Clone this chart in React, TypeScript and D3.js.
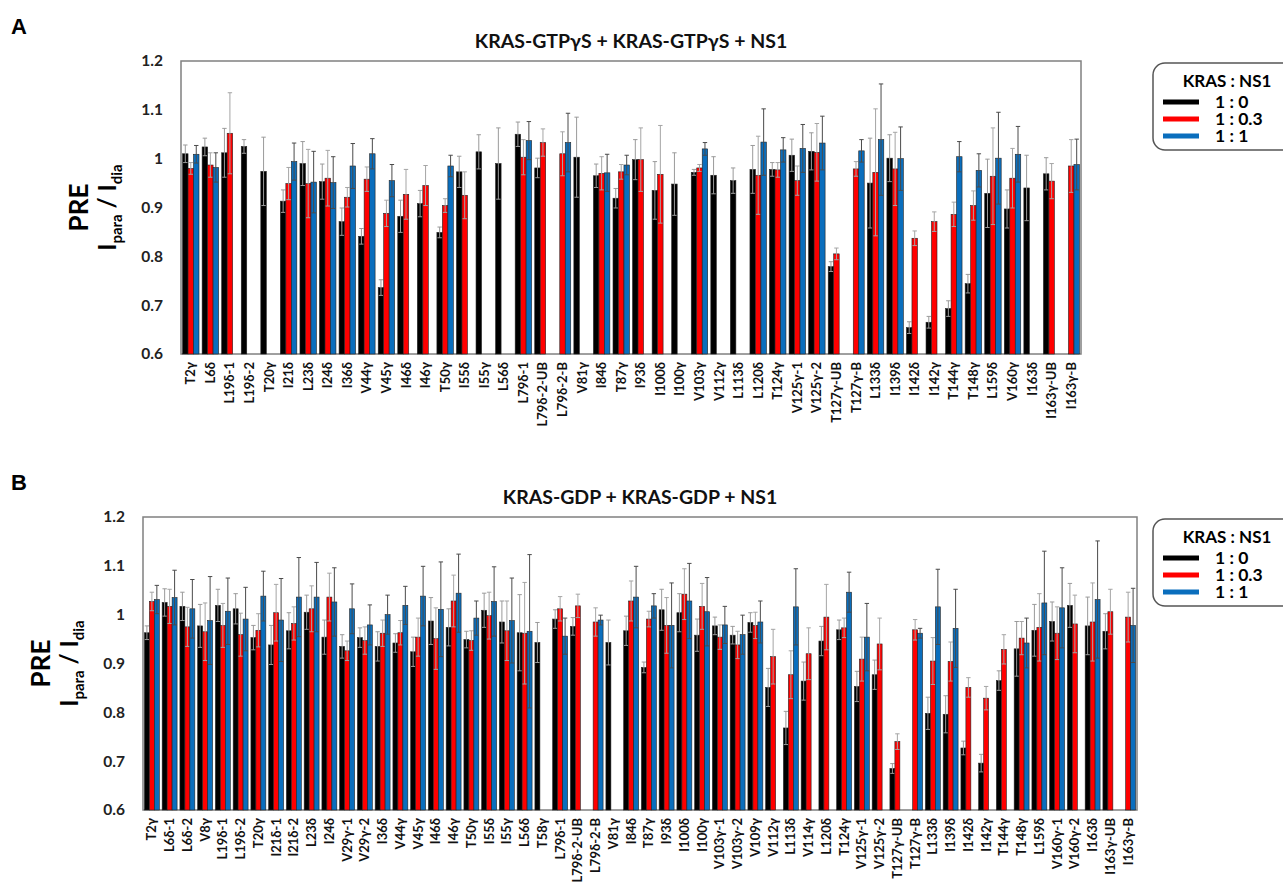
import React, { useRef, useEffect } from "react";
import * as d3 from "d3";

// ---- panel A : KRAS-GTPγS ----
const labelsA = ["T2γ","L6δ","L19δ-1","L19δ-2","T20γ","I21δ","L23δ","I24δ","I36δ","V44γ","V45γ","I46δ","I46γ","T50γ","I55δ","I55γ","L56δ","L79δ-1","L79δ-2-UB","L79δ-2-B","V81γ","I84δ","T87γ","I93δ","I100δ","I100γ","V103γ","V112γ","L113δ","L120δ","T124γ","V125γ-1","V125γ-2","T127γ-UB","T127γ-B","L133δ","I139δ","I142δ","I142γ","T144γ","T148γ","L159δ","V160γ","I163δ","I163γ-UB","I163γ-B"];
const blackA = [1.010,1.024,1.012,1.025,0.974,0.913,0.990,0.953,0.871,0.841,0.736,0.882,0.908,0.849,0.973,1.014,0.990,1.050,0.981,null,1.003,0.965,0.919,0.998,0.935,0.948,0.972,0.966,0.955,0.978,0.978,1.007,1.015,0.779,null,0.950,1.001,0.654,0.665,0.693,0.744,0.929,0.897,0.940,0.969,null];
const redA = [0.980,0.987,1.052,null,null,0.949,0.949,0.960,0.921,0.958,0.888,0.927,0.945,0.904,0.925,null,null,1.003,1.033,1.010,null,0.970,0.973,0.998,0.968,null,0.981,null,null,0.966,0.977,0.955,1.013,0.805,0.979,0.972,0.979,0.837,0.871,0.886,0.904,0.964,0.960,null,0.954,0.985];
const blueA = [1.009,0.982,null,null,null,0.994,0.952,0.951,0.985,1.010,0.955,null,null,0.985,null,null,null,1.037,null,1.033,null,0.971,0.987,null,null,null,1.020,null,null,1.034,1.018,1.021,1.032,null,1.016,1.039,1.000,null,null,1.004,0.976,1.001,1.009,null,null,0.988];
const errBlackA = [0.018,0.018,0.05,0.014,0.07,0.023,0.045,0.036,0.028,0.016,0.016,0.033,0.027,0.011,0.032,0.035,0.073,0.025,0.02,0,0.082,0.024,0.02,0.041,0.059,0.064,0.006,0.038,0.026,0.049,0.014,0.033,0.038,0.01,0,0.092,0.048,0.012,0.012,0.016,0.019,0.07,0.039,0.067,0.033,0];
const errRedA = [0.012,0.025,0.083,0,0,0.033,0.07,0.057,0.02,0.025,0.027,0.051,0.041,0.014,0.048,0,0,0.036,0.028,0.045,0,0.034,0.015,0.065,0.1,0,0.007,0,0,0.08,0.015,0.03,0.059,0.012,0.015,0.13,0.075,0.015,0.02,0.025,0.03,0.099,0.061,0,0.036,0.054];
const errBlueA = [0.018,0.03,0,0,0,0.038,0.063,0.053,0.046,0.031,0.033,0,0,0.022,0,0,0,0.039,0,0.06,0,0.038,0.02,0,0,0,0.013,0,0,0.068,0.025,0.049,0.055,0,0.023,0.114,0.065,0,0,0.031,0.034,0.094,0.057,0,0,0.052];

// ---- panel B : KRAS-GDP ----
const labelsB = ["T2γ","L6δ-1","L6δ-2","V8γ","L19δ-1","L19δ-2","T20γ","I21δ-1","I21δ-2","L23δ","I24δ","V29γ-1","V29γ-2","I36δ","V44γ","V45γ","I46δ","I46γ","T50γ","I55δ","I55γ","L56δ","T58γ","L79δ-1","L79δ-2-UB","L79δ-2-B","V81γ","I84δ","T87γ","I93δ","I100δ","I100γ","V103γ-1","V103γ-2","V109γ","V112γ","L113δ","V114γ","L120δ","T124γ","V125γ-1","V125γ-2","T127γ-UB","T127γ-B","L133δ","I139δ","I142δ","I142γ","T144γ","T148γ","L159δ","V160γ-1","V160γ-2","I163δ","I163γ-UB","I163γ-B"];
const blackB = [0.963,1.025,1.017,0.977,1.019,1.012,0.953,0.938,0.967,1.005,0.954,0.935,0.953,0.935,0.942,0.924,0.987,0.974,0.949,1.009,0.985,0.963,0.943,0.991,0.976,null,0.943,0.967,0.892,1.010,1.004,0.958,0.977,0.958,0.984,0.851,0.768,0.864,0.946,0.969,0.853,0.877,0.685,null,0.798,0.796,0.727,0.696,0.865,0.930,0.968,0.986,1.019,0.977,0.966,null];
const redB = [1.027,1.017,0.975,0.965,0.978,0.959,0.968,1.004,0.982,1.012,1.036,0.926,0.947,0.962,0.963,0.954,0.951,1.028,0.947,0.998,0.967,0.962,null,1.012,1.018,0.985,null,1.028,0.991,0.978,1.042,1.017,0.954,0.938,0.978,0.914,0.877,0.920,0.995,0.973,0.909,0.940,0.740,0.969,0.905,0.904,0.851,0.829,0.929,0.952,0.974,0.962,0.981,0.985,1.006,0.995];
const blueB = [1.031,1.035,1.012,0.988,1.007,0.991,1.038,0.989,1.036,1.036,1.026,1.012,0.979,1.000,1.019,1.038,1.011,1.044,0.993,1.027,0.988,0.966,null,0.956,null,0.989,null,1.036,1.018,0.978,1.028,1.006,0.979,0.959,0.985,null,1.016,null,null,1.046,0.954,null,null,0.962,1.016,0.972,null,null,null,0.942,1.024,1.014,null,1.031,null,0.978];
const errBlackB = [0.014,0.028,0.029,0.044,0.033,0.031,0.025,0.04,0.037,0.035,0.035,0.024,0.02,0.03,0.019,0.03,0.048,0.038,0.017,0.035,0.043,0.078,0.041,0.019,0.018,0,0.046,0.03,0.011,0.042,0.039,0.033,0.018,0.018,0.02,0.039,0.034,0.039,0.03,0.02,0.031,0.03,0.01,0,0.033,0.038,0.014,0.018,0.02,0.056,0.053,0.04,0.045,0.059,0.036,0];
const errRedB = [0.019,0.035,0.04,0.059,0.045,0.044,0.034,0.058,0.034,0.047,0.049,0.02,0.028,0.027,0.025,0.039,0.063,0.053,0.02,0.048,0.061,0.104,0,0.025,0.024,0.029,0,0.041,0.016,0.057,0.052,0.047,0.025,0.028,0.027,0.056,0.049,0.053,0.067,0.02,0.045,0.053,0.016,0.021,0.048,0.04,0.02,0.024,0.03,0.034,0.069,0.054,0.059,0.08,0.046,0.051];
const errBlueB = [0.029,0.056,0.06,0.09,0.068,0.065,0.051,0.085,0.081,0.071,0.07,0.051,0.041,0.04,0.039,0.061,0.097,0.08,0.035,0.071,0.087,0.157,0,0.037,0,0.01,0,0.063,0.025,0.087,0.077,0.07,0.038,0.04,0.043,0,0.078,0,0,0.041,0.069,0,0,0.01,0.077,0.08,0,0,0,0.051,0.106,0.082,0,0.12,0,0.076];

const yTicks = [0.6, 0.7, 0.8, 0.9, 1, 1.1, 1.2];
const seriesKeys = ["1 : 0", "1 : 0.3", "1 : 1"];
const seriesColors = ["#000000", "#ff0000", "#0a6ebd"];
const errColors = ["#9a9a9a", "#a5a5a5", "#4a4a4a"];

const FONT = "Lato, 'Open Sans', sans-serif";

function drawPanel(svg, p) {
  const { labels, series, errors, left, right, top, bottom, title, letter } = p;
  const g = svg.append("g");

  const x = d3.scaleBand().domain(labels).range([left, right]).paddingInner(0.16).paddingOuter(0.08);
  const xs = d3.scaleBand().domain(seriesKeys).range([0, x.bandwidth()]);
  const y = d3.scaleLinear().domain([0.6, 1.2]).range([bottom, top]);

  // frame
  g.append("rect")
    .attr("x", left).attr("y", top)
    .attr("width", right - left).attr("height", bottom - top)
    .attr("fill", "none").attr("stroke", "#808080").attr("stroke-width", 1.5);

  seriesKeys.forEach((key, si) => {
    const rows = labels
      .map((lab, i) => ({ lab, v: series[si][i], e: errors[si][i] }))
      .filter(d => d.v != null);

    g.append("g")
      .selectAll("rect")
      .data(rows)
      .join("rect")
      .attr("x", d => x(d.lab) + xs(key))
      .attr("y", d => y(d.v))
      .attr("width", xs.bandwidth())
      .attr("height", d => y(0.6) - y(d.v))
      .attr("fill", seriesColors[si])
      .attr("stroke", "#222")
      .attr("stroke-width", 0.6);

    const eg = g.append("g").attr("stroke", errColors[si]).attr("stroke-width", 1);
    rows.filter(d => d.e > 0).forEach(d => {
      const cx = x(d.lab) + xs(key) + xs.bandwidth() / 2;
      const y1 = y(d.v + d.e), y2 = y(d.v - d.e);
      eg.append("line").attr("x1", cx).attr("x2", cx).attr("y1", y1).attr("y2", y2);
      eg.append("line").attr("x1", cx - 2.2).attr("x2", cx + 2.2).attr("y1", y1).attr("y2", y1);
      eg.append("line").attr("x1", cx - 2.2).attr("x2", cx + 2.2).attr("y1", y2).attr("y2", y2);
    });
  });

  // y tick labels
  g.append("g")
    .selectAll("text")
    .data(yTicks)
    .join("text")
    .attr("x", left - 18)
    .attr("y", d => y(d))
    .attr("dy", "0.35em")
    .attr("text-anchor", "end")
    .attr("font-family", FONT)
    .attr("font-weight", 700)
    .attr("font-size", 15.5)
    .attr("fill", "#222")
    .text(d => String(d));

  // x labels
  g.append("g")
    .selectAll("text")
    .data(labels)
    .join("text")
    .attr("transform", d => `translate(${x(d) + x.bandwidth() / 2 + 4.5},${bottom + 8}) rotate(-90)`)
    .attr("text-anchor", "end")
    .attr("font-family", FONT)
    .attr("font-weight", 700)
    .attr("font-size", 13)
    .attr("fill", "#111")
    .text(d => d);

  // title
  g.append("text")
    .attr("x", (left + right) / 2).attr("y", top - 13)
    .attr("text-anchor", "middle")
    .attr("font-family", FONT).attr("font-weight", 700).attr("font-size", 19.5)
    .attr("fill", "#111")
    .text(title);

  // panel letter
  g.append("text")
    .attr("x", 11).attr("y", top - 27)
    .attr("font-family", "'Liberation Sans', Arial, sans-serif").attr("font-weight", 700).attr("font-size", 22)
    .text(letter);

  // y axis title
  const cy = (top + bottom) / 2;
  g.append("text")
    .attr("transform", `translate(${left - 93},${cy}) rotate(-90)`)
    .attr("text-anchor", "middle")
    .attr("font-family", FONT).attr("font-weight", 700).attr("font-size", 26)
    .text("PRE");
  const t2 = g.append("text")
    .attr("transform", `translate(${left - 65},${cy}) rotate(-90)`)
    .attr("text-anchor", "middle")
    .attr("font-family", FONT).attr("font-weight", 700).attr("font-size", 24);
  t2.append("tspan").text("I");
  t2.append("tspan").attr("font-size", 15).attr("dy", 6).text("para");
  t2.append("tspan").attr("dy", -6).text(" / I");
  t2.append("tspan").attr("font-size", 15).attr("dy", 6).text("dia");

  // legend
  const lg = g.append("g").attr("transform", `translate(1153,${top + 2})`);
  lg.append("rect")
    .attr("x", 0).attr("y", 0).attr("width", 142).attr("height", 87).attr("rx", 12)
    .attr("fill", "#fff").attr("stroke", "#555").attr("stroke-width", 1.5);
  lg.append("text")
    .attr("x", 74).attr("y", 24).attr("text-anchor", "middle")
    .attr("font-family", FONT).attr("font-weight", 700).attr("font-size", 17)
    .text("KRAS : NS1");
  seriesKeys.forEach((key, i) => {
    const ly = 39 + i * 17;
    lg.append("line").attr("x1", 10).attr("x2", 46).attr("y1", ly).attr("y2", ly)
      .attr("stroke", seriesColors[i]).attr("stroke-width", 5);
    lg.append("text").attr("x", 62).attr("y", ly + 6)
      .attr("font-family", FONT).attr("font-weight", 700).attr("font-size", 17.5)
      .text(key);
  });
}

export default function App() {
  const ref = useRef(null);

  useEffect(() => {
    const svg = d3.select(ref.current);
    svg.selectAll("*").remove();

    drawPanel(svg, {
      labels: labelsA,
      series: [blackA, redA, blueA],
      errors: [errBlackA, errRedA, errBlueA],
      left: 181, right: 1081, top: 61, bottom: 354,
      title: "KRAS-GTPγS + KRAS-GTPγS + NS1",
      letter: "A",
    });
    drawPanel(svg, {
      labels: labelsB,
      series: [blackB, redB, blueB],
      errors: [errBlackB, errRedB, errBlueB],
      left: 143, right: 1137, top: 517, bottom: 810,
      title: "KRAS-GDP + KRAS-GDP + NS1",
      letter: "B",
    });
  }, []);

  return (
    <svg
      ref={ref}
      width={1283}
      height={885}
      style={{ position: "absolute", left: 0, top: 0, background: "#fff" }}
    />
  );
}
